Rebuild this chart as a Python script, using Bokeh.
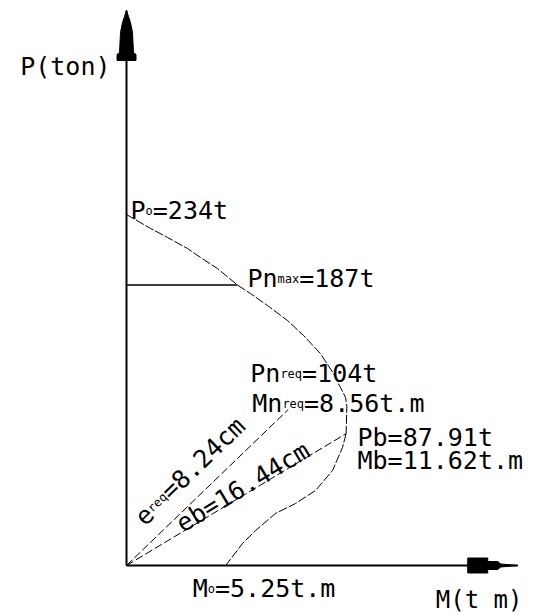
import math

from bokeh.core.properties import value
from bokeh.embed import file_html
from bokeh.models import Range1d
from bokeh.plotting import figure
from bokeh.resources import INLINE

# ---- column interaction diagram values (t, t.m, cm) ----
P0 = 234.0          # pure axial capacity
Pn_max = 187.0      # maximum nominal axial load
M_at_Pnmax = 5.87   # moment where Pn,max meets the curve
Pn_req = 104.0
Mn_req = 8.56
Pb = 87.91          # balance point
Mb = 11.62
Mo = 5.25           # pure bending
e_req_cm = 8.24
eb_cm = 16.44

# compression-controlled branch: P0 down to the balance point
comp_M = [0.0, 1.27, 2.17, 3.23, 3.92, 4.81, M_at_Pnmax, 6.56, 7.46, 8.52,
          9.37, 10.26, 10.95, 11.32, 11.59, 11.66, Mb]
comp_P = [P0, 224.7, 218.7, 211.3, 205.3, 198.0, Pn_max, 181.3, 173.3, 163.3,
          153.3, 141.3, 128.0, 118.7, 112.0, 106.0, Pb]
# tension-controlled branch: balance point down to pure bending
tens_M = [Mb, 11.43, 10.90, 10.00, 8.94, 7.88, 6.83, 6.14, Mo]
tens_P = [Pb, 78.7, 63.3, 50.0, 41.3, 34.7, 23.3, 14.7, 0.0]

# ---- drawing scale ----
W, H = 533, 612
KX = 18.9           # px per t.m
KY = 1.5            # px per t
OX, OY = 126, 565   # pixel position of the origin
M_AXIS_END = 20.7
P_AXIS_END = 370.0

FONT = "DejaVu Sans Mono"
ADV = 0.602         # glyph advance of the mono font, in em

p = figure(width=W, height=H,
           x_range=Range1d(-OX / KX, (W - OX) / KX),
           y_range=Range1d(-(H - OY) / KY, OY / KY),
           output_backend="svg", toolbar_location=None,
           x_axis_location=None, y_axis_location=None,
           min_border=0, outline_line_color=None,
           background_fill_color="white", border_fill_color="white")
p.grid.visible = False

# ---- axes with arrowheads ----
p.segment(x0=[0, 0], y0=[0, 0], x1=[0, M_AXIS_END], y1=[P_AXIS_END, 0],
          line_color="black", line_width=2)

# arrowhead outlines in screen pixels: (along the axis back from the tip, half width)
y_head = [(0, 0), (6, 2), (12, 4), (22, 6), (42, 7), (44, 9.5), (50, 9.5)]
x_head = [(0, 0), (17, 1.5), (20, 4), (30, 4), (30, 7.5), (50, 7.5)]

def head_outline(shape):
    side = [(a, w) for a, w in shape]
    return side + [(a, -w) for a, w in reversed(side)]

yh = head_outline(y_head)
p.patch([w / KX for a, w in yh], [P_AXIS_END - a / KY for a, w in yh],
        fill_color="black", line_color="black", line_width=1)
xh = head_outline(x_head)
p.patch([M_AXIS_END - a / KX for a, w in xh], [w / KY for a, w in xh],
        fill_color="black", line_color="black", line_width=1)

# ---- interaction curve ----
p.line(comp_M, comp_P, line_color="black", line_width=1, line_dash="9 2")
p.line(tens_M, tens_P, line_color="black", line_width=1, line_dash="9 2")

# Pn,max cut-off
p.segment(x0=[0], y0=[Pn_max], x1=[M_at_Pnmax], y1=[Pn_max],
          line_color="black", line_width=1.5)

# eccentricity rays through the required and balance points
p.segment(x0=[0, 0], y0=[0, 0], x1=[Mn_req, Mb], y1=[Pn_req, Pb],
          line_color="black", line_width=1, line_dash="8 3")


# ---- labels ----
def label(m, pv, dx, dy, parts, size=25, sub=12, angle=0.0):
    """Write text pieces starting dx, dy screen px (dy downwards) from (m, pv)."""
    ca, sa = math.cos(angle), math.sin(angle)
    cursor = 0.0
    for txt, is_sub in parts:
        fs = sub if is_sub else size
        sx = dx + cursor * ca
        sy = dy - cursor * sa
        p.text(x=[m + sx / KX], y=[pv - sy / KY], text=[txt], angle=angle,
               text_font=value(FONT), text_font_size=f"{fs}px",
               text_align="left", text_baseline="alphabetic",
               text_color="black")
        cursor += len(txt) * ADV * fs


def fmt(v):
    return f"{v:g}"


label(0, P_AXIS_END, -16 - 6 * ADV * 25, 56, [("P(ton)", False)])
label(M_AXIS_END, 0, -82, 34, [("M(t m)", False)], size=24)

label(0, P0, 4, -4, [("P", False), ("o", True), (f"={fmt(P0)}t", False)])
label(M_at_Pnmax, Pn_max, 10, -6.5,
      [("Pn", False), ("max", True), (f"={fmt(Pn_max)}t", False)])
label(Mn_req, Pn_req, -38, -36,
      [("Pn", False), ("req", True), (f"={fmt(Pn_req)}t", False)])
label(Mn_req, Pn_req, -36, -6,
      [("Mn", False), ("req", True), (f"={Mn_req:.2f}t.m", False)])
label(Mb, Pb, 11.4, 4, [("Pb", False), (f"={Pb:.2f}t", False)])
label(Mb, Pb, 11.4, 27, [("Mb", False), (f"={Mb:.2f}t.m", False)])
label(Mo, 0, -33, 23, [("M", False), ("o", True), (f"={Mo:.2f}t.m", False)])

# labels running along the eccentricity rays
def along_ray(m_end, p_end, t, n, parts):
    a = math.atan2(p_end * KY, m_end * KX)
    ux, uy = math.cos(a), -math.sin(a)
    vx, vy = -math.sin(a), -math.cos(a)
    label(0, 0, t * ux + n * vx, t * uy + n * vy, parts, angle=a)


along_ray(Mb, Pb, 65, 7.5, [("eb", False), (f"={eb_cm:.2f}cm", False)])
along_ray(Mn_req, Pn_req, 40, 24,
          [("e", False), ("req", True), (f"={e_req_cm:.2f}cm", False)])

open("out.html", "w").write(file_html(p, INLINE))
